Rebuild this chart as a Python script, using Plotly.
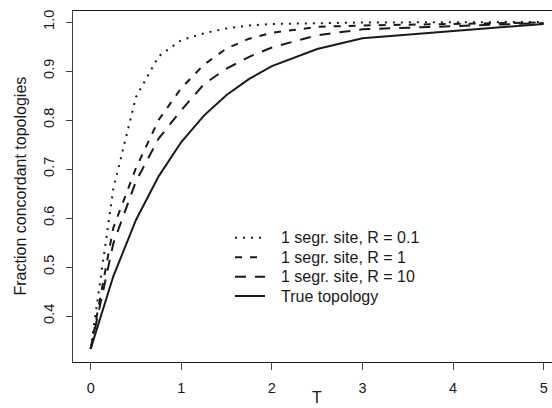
import plotly.graph_objects as go

# Divergence time grid (coalescent units)
T = [0, 0.25, 0.5, 0.75, 1, 1.25, 1.5, 1.75, 2, 2.5, 3, 5]

# Fraction of concordant topologies for each scenario
seg_R01 = [0.333, 0.660, 0.847, 0.930, 0.963, 0.977, 0.987, 0.993, 0.996, 0.998, 0.999, 1.000]
seg_R1 = [0.333, 0.580, 0.702, 0.800, 0.865, 0.913, 0.946, 0.966, 0.978, 0.990, 0.993, 0.999]
seg_R10 = [0.333, 0.548, 0.675, 0.762, 0.820, 0.873, 0.905, 0.929, 0.948, 0.973, 0.985, 0.998]
true_topo = [0.333, 0.481, 0.596, 0.685, 0.755, 0.809, 0.851, 0.884, 0.910, 0.945, 0.967, 0.996]

series = [
    ("1 segr. site, R = 0.1", seg_R01, "2px,6px"),
    ("1 segr. site, R = 1", seg_R1, "7px,8px"),
    ("1 segr. site, R = 10", seg_R10, "11px,9px"),
    ("True topology", true_topo, "solid"),
]

y_ticks = [0.4, 0.5, 0.6, 0.7, 0.8, 0.9, 1.0]
x_ticks = [0, 1, 2, 3, 4, 5]

FONT = "Liberation Sans, Arial, sans-serif"
INK = "#1a1a1a"
W, H = 552, 408
ML, MR, MT, MB = 73, 0, 11, 46
PW, PH = W - ML - MR, H - MT - MB


def px_to_paper(px, py):
    return (px - ML) / PW, (H - MB - py) / PH


fig = go.Figure()
for name, vals, dash in series:
    fig.add_trace(go.Scatter(
        x=T, y=vals, mode="lines", name=name, showlegend=False,
        line=dict(color=INK, width=2, dash=dash),
    ))

# Key without a box, in the lower middle of the panel
shapes = []
annotations = []
row_y = [237.7, 257.3, 276.7, 296.0]
for (name, _, dash), ry in zip(series, row_y):
    x0, y0 = px_to_paper(235, ry)
    x1, _ = px_to_paper(265, ry)
    shapes.append(dict(type="line", xref="paper", yref="paper",
                       x0=x0, x1=x1, y0=y0, y1=y0,
                       line=dict(color=INK, width=2, dash=dash)))
    tx, _ = px_to_paper(279, ry)
    annotations.append(dict(text=name, x=tx, y=y0, xref="paper", yref="paper",
                            xanchor="left", yanchor="middle", showarrow=False,
                            font=dict(family=FONT, size=16, color=INK)))

annotations += [
    dict(text="T", x=2.5, xref="x", y=0, yref="paper",
         yanchor="middle", yshift=-35, showarrow=False,
         font=dict(family=FONT, size=16, color=INK)),
    dict(text="Fraction concordant topologies", x=0, xref="paper",
         y=0.5, yref="paper", xanchor="center", yanchor="middle",
         xshift=-53, textangle=-90, showarrow=False,
         font=dict(family=FONT, size=16, color=INK)),
]

fig.update_layout(
    width=W, height=H,
    margin=dict(l=ML, r=MR, t=MT, b=MB),
    paper_bgcolor="white", plot_bgcolor="white",
    font=dict(family=FONT, size=15, color=INK),
    showlegend=False,
    xaxis=dict(
        range=[-0.195, 5.092],
        tickvals=x_ticks, ticktext=[str(v) for v in x_ticks],
        ticks="outside", ticklen=7, tickcolor="#444", tickwidth=1,
        showline=True, linecolor=INK, linewidth=1.2, mirror=True,
        showgrid=False, zeroline=False,
        tickfont=dict(family=FONT, size=14.5, color=INK),
        ticklabelstandoff=5,
    ),
    yaxis=dict(
        range=[0.30612, 1.02245],
        tickvals=y_ticks, ticktext=[f"{v:.1f}" for v in y_ticks],
        ticks="outside", ticklen=6, tickcolor="#444", tickwidth=1,
        showline=True, linecolor="#444", linewidth=1.2, mirror=False,
        showgrid=False, zeroline=False, tickangle=-90,
        tickfont=dict(family=FONT, size=14.5, color=INK),
        ticklabelstandoff=6,
    ),
    shapes=shapes,
    annotations=annotations,
)

fig.write_html("out.html")
